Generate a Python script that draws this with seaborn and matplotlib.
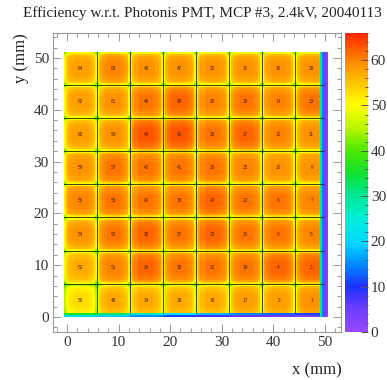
import numpy as np
import pandas as pd
import seaborn as sns
import matplotlib
matplotlib.use("Agg")
import matplotlib.pyplot as plt
from matplotlib.colors import LinearSegmentedColormap
from matplotlib.ticker import FixedLocator, MultipleLocator

title = "Efficiency w.r.t. Photonis PMT, MCP #3, 2.4kV, 20040113"
x_label = "x (mm)"
y_label = "y (mm)"

# pad numbers, top row first
pad_labels = [
    [64, 63, 48, 47, 32, 31, 16, 15],
    [62, 61, 46, 45, 30, 29, 14, 13],
    [60, 59, 44, 43, 28, 27, 12, 11],
    [58, 57, 42, 41, 26, 25, 10, 9],
    [56, 55, 40, 39, 24, 23, 8, 7],
    [54, 53, 38, 37, 22, 21, 6, 5],
    [52, 51, 36, 35, 20, 19, 4, 3],
    [50, 49, 34, 33, 18, 17, 2, 1],
]
# efficiency at pad centres (%), top row first
pad_eff = [
    [58, 60, 59, 59, 59, 59, 59, 59],
    [58, 59, 61, 62, 60, 61, 60, 61],
    [58, 59, 63, 63, 61, 62, 60, 59],
    [59, 61, 61, 61, 61, 60, 59, 59],
    [60, 61, 61, 61, 62, 61, 61, 60],
    [59, 61, 62, 61, 62, 61, 61, 60],
    [57, 60, 62, 61, 61, 61, 62, 62],
    [53, 57, 57, 57, 57, 58, 58, 59],
]
# change of efficiency across one pad, in 16 steps of 0.4 mm
pad_profile = [-8, -3, -1.5, -1, -0.5, 0, 0, 0, 0, 0, 0, -0.5, -1, -1.5, -3, -8]
# right detector edge: last four 0.4 mm columns
right_strip = [30, 14, 4, 3]
# bottom detector edge: lowest two 0.4 mm rows, one value per pad column
bottom_outer = [22, 19, 15, 11, 8, 6, 5, 4]
bottom_inner = [36, 32, 27, 22, 18, 15, 13, 11]

x_ticks = [0, 10, 20, 30, 40, 50]
y_ticks = [0, 10, 20, 30, 40, 50]
z_ticks = [0, 10, 20, 30, 40, 50, 60]

# geometry (mm)
x0, y0, cell = -0.6, 0.0, 0.4
nsub = len(pad_profile)
npad = len(pad_eff)
n = npad * nsub

grid = np.zeros((n, n))
for r in range(n):          # r = 0 is bottom
    for c in range(n):
        pr = npad - 1 - r // nsub
        pc = c // nsub
        grid[r, c] = pad_eff[pr][pc] + pad_profile[r % nsub] + pad_profile[c % nsub]
for c in range(n):
    grid[0, c] = bottom_outer[c // nsub]
    grid[1, c] = bottom_inner[c // nsub]
for k, v in enumerate(right_strip):
    col = n - len(right_strip) + k
    grid[:, col] = v
df = pd.DataFrame(grid)

palette = LinearSegmentedColormap.from_list("root", [
    (0.00, "#9848ff"), (0.08, "#6a3cff"), (0.15, "#1c30ff"), (0.23, "#0090ff"),
    (0.30, "#00d8ff"), (0.38, "#00eed8"), (0.46, "#00e890"), (0.53, "#10e030"),
    (0.61, "#50e800"), (0.68, "#b8f400"), (0.76, "#ffff00"), (0.84, "#ffc000"),
    (0.91, "#ff8400"), (1.00, "#ff2800")])
vmax = 66

fig = plt.figure(figsize=(3.87, 3.80), dpi=100)
ax = fig.add_axes([53 / 387, 48 / 380, 288 / 387, 299 / 380])
cax = fig.add_axes([345 / 387, 48 / 380, 23 / 387, 299 / 380])

sns.heatmap(df, ax=ax, cmap=palette, vmin=0, vmax=vmax, cbar_ax=cax,
            xticklabels=False, yticklabels=False, rasterized=True,
            cbar_kws={"ticks": z_ticks})

def xi(mm):
    return (mm - x0) / cell

def yi(mm):
    return (mm - y0) / cell

# pad boundary lines
for k in range(1, npad):
    ax.plot([k * nsub, k * nsub], [2, n], color="#1a2a10", lw=0.6)
    ax.plot([0, n - 2], [k * nsub, k * nsub], color="#1a2a10", lw=0.6)

# pad numbers
for pr in range(npad):
    for pc in range(npad):
        ax.text(pc * nsub + nsub / 2, (npad - 1 - pr) * nsub + nsub / 2,
                str(pad_labels[pr][pc]), fontsize=3.4, color="#4a2000",
                ha="center", va="center", family="Liberation Sans")

ax.set_xlim(xi(-2.7), xi(53.1))
ax.set_ylim(yi(-2.9), yi(54.8))

serif = "Liberation Serif"
frame = "#999999"
ax.set_xticks([xi(v) for v in x_ticks])
ax.set_xticklabels([str(v) for v in x_ticks], family=serif, fontsize=11, color="#333333")
ax.set_yticks([yi(v) for v in y_ticks])
ax.set_yticklabels([str(v) for v in y_ticks], family=serif, fontsize=11, color="#333333")
ax.xaxis.set_minor_locator(FixedLocator([xi(v) for v in range(-2, 54, 2)]))
ax.yaxis.set_minor_locator(FixedLocator([yi(v) for v in range(-2, 55, 2)]))
ax.tick_params(which="both", direction="in", top=True, right=True, color=frame, width=0.7)
ax.tick_params(which="major", length=6, pad=3)
ax.tick_params(which="minor", length=3)
for s in ax.spines.values():
    s.set_visible(True)
    s.set_color(frame)
    s.set_linewidth(0.8)
ax.set_xlabel("")
ax.set_ylabel("")

cbar = ax.collections[0].colorbar
cbar.outline.set_visible(False)
cax.yaxis.set_minor_locator(MultipleLocator(2))
cax.tick_params(which="both", direction="in", right=True, left=False, color="#555555", width=0.7)
cax.tick_params(which="major", length=5, pad=2)
cax.tick_params(which="minor", length=2.5)
for t in cax.get_yticklabels():
    t.set_family(serif)
    t.set_fontsize(11)
    t.set_color("#333333")

fig.text(0.522, 1 - 13 / 380, title, ha="center", va="center", family=serif,
         fontsize=11, color="#222222")
fig.text(342 / 387, 1 - 370 / 380, x_label, ha="right", va="center", family=serif,
         fontsize=12, color="#222222")
fig.text(21 / 387, 1 - 33 / 380, y_label, ha="center", va="top", rotation=90,
         family=serif, fontsize=12, color="#222222")

fig.savefig("out.png", dpi=100)
